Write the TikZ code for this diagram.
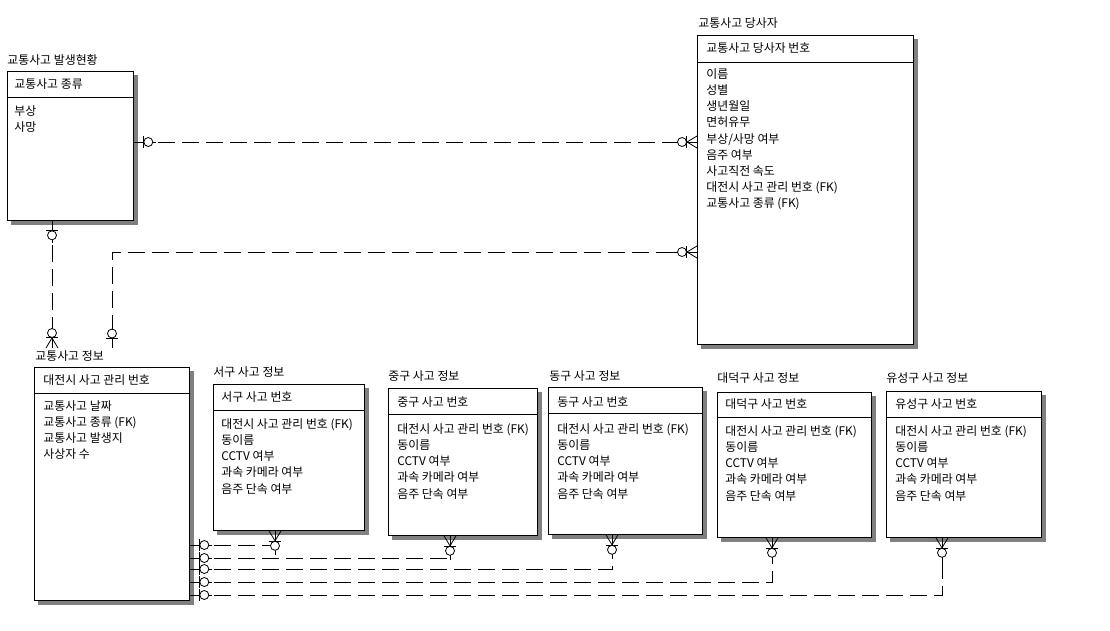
\documentclass[tikz,border=0pt]{standalone}
\usepackage{fontspec}
\newfontfamily\erfont{Noto Sans CJK KR}
\usetikzlibrary{positioning}

\tikzset{
  zone/.pic={
    \draw (0,0) -- (22,0);
    \draw (10,-6) -- (10,6);
    \draw[fill=white] (14.5,0) circle (4.5pt);
  },
  zmany/.pic={
    \draw (0,0) -- (24,0);
    \draw (0,-6) -- (10,0) -- (0,6);
    \draw (10.5,-6) -- (10.5,6);
    \draw[fill=white] (15,0) circle (4.5pt);
  }
}

\begin{document}
\begin{tikzpicture}[x=1pt,y=-1pt,line width=0.8pt]
        \tikzstyle{every node} = [inner sep=0pt, font={\erfont\fontsize{11.9pt}{16.2pt}\selectfont}]
        \tikzstyle{ent} = [draw, fill=white, anchor=north west]
        \tikzstyle{sbox} = [fill=black!50, draw=none]
        \tikzstyle{attr} = [align=left]
        \tikzstyle{rel} = [dash pattern=on 17pt off 7pt]

        \useasboundingbox (0,0) rectangle (1110,630);

        % shadows
        \path[sbox] (11,75) rectangle (138,225);
        \path[sbox] (701,39) rectangle (918,349);
        \path[sbox] (38,371) rectangle (194,605);
        \path[sbox] (217,388) rectangle (369,535);
        \path[sbox] (392,392) rectangle (542,540);
        \path[sbox] (552,391) rectangle (707,539);
        \path[sbox] (721,396) rectangle (876,542);
        \path[sbox] (890,395) rectangle (1046,542);

        % entities
        \node[ent, minimum width=126, minimum height=149](hyun) at (7,71){};
        \node[ent, minimum width=216, minimum height=309](dang) at (697,35){};
        \node[ent, minimum width=155, minimum height=233](jeong) at (34,367){};
        \node[ent, minimum width=151, minimum height=146](seogu) at (213,384){};
        \node[ent, minimum width=149, minimum height=147](junggu) at (388,388){};
        \node[ent, minimum width=154, minimum height=147](donggu) at (548,387){};
        \node[ent, minimum width=154, minimum height=145](daedeok) at (717,392){};
        \node[ent, minimum width=155, minimum height=146](yuseong) at (886,391){};

        \draw ([yshift=-26pt]hyun.north west) -- ([yshift=-26pt]hyun.north east);
        \draw ([yshift=-27pt]dang.north west) -- ([yshift=-27pt]dang.north east);
        \draw ([yshift=-26pt]jeong.north west) -- ([yshift=-26pt]jeong.north east);
        \draw ([yshift=-26pt]seogu.north west) -- ([yshift=-26pt]seogu.north east);
        \draw ([yshift=-26pt]junggu.north west) -- ([yshift=-26pt]junggu.north east);
        \draw ([yshift=-26pt]donggu.north west) -- ([yshift=-26pt]donggu.north east);
        \draw ([yshift=-25pt]daedeok.north west) -- ([yshift=-25pt]daedeok.north east);
        \draw ([yshift=-26pt]yuseong.north west) -- ([yshift=-26pt]yuseong.north east);

        % relationships
        \coordinate (jtop1) at ([xshift=18pt, yshift=19pt]jeong.north west);
        \coordinate (jtop2) at ([xshift=78pt, yshift=19pt]jeong.north west);

        \draw[rel] ([yshift=-71pt]hyun.north east) -- ([yshift=-107pt]dang.north west);
        \draw[rel] ([yshift=-217pt]dang.north west) -| (jtop2);
        \draw[rel] ([xshift=45pt]hyun.south west) -- (jtop1);
        \draw[rel] ([yshift=-178pt]jeong.north east) -| ([xshift=62pt]seogu.south west);
        \draw[rel] ([yshift=-191pt]jeong.north east) -| ([xshift=62pt]junggu.south west);
        \draw[rel] ([yshift=-202pt]jeong.north east) -| ([xshift=64pt]donggu.south west);
        \draw[rel] ([yshift=-215pt]jeong.north east) -| ([xshift=55pt]daedeok.south west);
        \draw[rel] ([yshift=-228pt]jeong.north east) -| ([xshift=56pt]yuseong.south west);

        \pic at ([yshift=-71pt]hyun.north east) {zone};
        \pic[rotate=180] at ([yshift=-107pt]dang.north west) {zmany};
        \pic[rotate=180] at ([yshift=-217pt]dang.north west) {zmany};
        \pic[rotate=-90] at ([xshift=45pt]hyun.south west) {zone};
        \pic[rotate=90] at (jtop1) {zmany};
        \pic[rotate=90] at (jtop2) {zone};
        \pic at ([yshift=-178pt]jeong.north east) {zone};
        \pic at ([yshift=-191pt]jeong.north east) {zone};
        \pic at ([yshift=-202pt]jeong.north east) {zone};
        \pic at ([yshift=-215pt]jeong.north east) {zone};
        \pic at ([yshift=-228pt]jeong.north east) {zone};
        \pic[rotate=-90] at ([xshift=62pt]seogu.south west) {zmany};
        \pic[rotate=-90] at ([xshift=62pt]junggu.south west) {zmany};
        \pic[rotate=-90] at ([xshift=64pt]donggu.south west) {zmany};
        \pic[rotate=-90] at ([xshift=55pt]daedeok.south west) {zmany};
        \pic[rotate=-90] at ([xshift=56pt]yuseong.south west) {zmany};

        % texts
        \node[above right=5pt and 0pt of hyun.north west](hyunT){교통사고 발생현황};
        \node[below right=7pt and 7pt of hyun.north west](hyunK){교통사고 종류};
        \node[attr, below right=34pt and 7pt of hyun.north west](hyunA){부상\\사망};

        \node[above right=6pt and 1pt of dang.north west](dangT){교통사고 당사자};
        \node[below right=7pt and 9pt of dang.north west](dangK){교통사고 당사자 번호};
        \node[attr, below right=33pt and 9pt of dang.north west](dangA){이름\\성별\\생년월일\\면허유무\\부상/사망 여부\\음주 여부\\사고직전 속도\\대전시 사고 관리 번호 (FK)\\교통사고 종류 (FK)};

        \node[above right=5pt and 1pt of jeong.north west](jeongT){교통사고 정보};
        \node[below right=7pt and 9pt of jeong.north west](jeongK){대전시 사고 관리 번호};
        \node[attr, below right=33pt and 9pt of jeong.north west](jeongA){교통사고 날짜\\교통사고 종류 (FK)\\교통사고 발생지\\사상자 수};

        \node[above right=6pt and 0pt of seogu.north west](seoguT){서구 사고 정보};
        \node[below right=7pt and 8pt of seogu.north west](seoguK){서구 사고 번호};
        \node[attr, below right=34pt and 8pt of seogu.north west](seoguA){대전시 사고 관리 번호 (FK)\\동이름\\CCTV 여부\\과속 카메라 여부\\음주 단속 여부};

        \node[above right=6pt and 0pt of junggu.north west](jungguT){중구 사고 정보};
        \node[below right=8pt and 9pt of junggu.north west](jungguK){중구 사고 번호};
        \node[attr, below right=35pt and 9pt of junggu.north west](jungguA){대전시 사고 관리 번호 (FK)\\동이름\\CCTV 여부\\과속 카메라 여부\\음주 단속 여부};

        \node[above right=5pt and 1pt of donggu.north west](dongguT){동구 사고 정보};
        \node[below right=9pt and 9pt of donggu.north west](dongguK){동구 사고 번호};
        \node[attr, below right=36pt and 9pt of donggu.north west](dongguA){대전시 사고 관리 번호 (FK)\\동이름\\CCTV 여부\\과속 카메라 여부\\음주 단속 여부};

        \node[above right=8pt and 0pt of daedeok.north west](daedeokT){대덕구 사고 정보};
        \node[below right=6pt and 8pt of daedeok.north west](daedeokK){대덕구 사고 번호};
        \node[attr, below right=33pt and 8pt of daedeok.north west](daedeokA){대전시 사고 관리 번호 (FK)\\동이름\\CCTV 여부\\과속 카메라 여부\\음주 단속 여부};

        \node[above right=7pt and 0pt of yuseong.north west](yuseongT){유성구 사고 정보};
        \node[below right=7pt and 9pt of yuseong.north west](yuseongK){유성구 사고 번호};
        \node[attr, below right=34pt and 9pt of yuseong.north west](yuseongA){대전시 사고 관리 번호 (FK)\\동이름\\CCTV 여부\\과속 카메라 여부\\음주 단속 여부};
    \end{tikzpicture}
\end{document}
